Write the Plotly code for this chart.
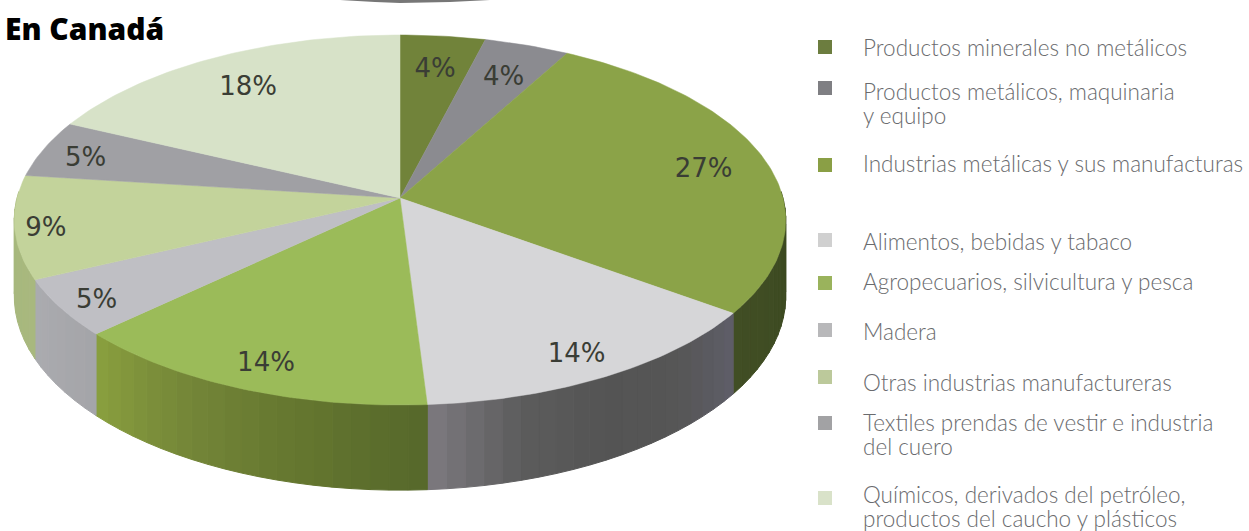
import math
import plotly.graph_objects as go

# ---- data ----
categories = [
    "Productos minerales no metálicos",
    "Productos metálicos, maquinaria<br>y equipo",
    "Industrias metálicas y sus manufacturas",
    "Alimentos, bebidas y tabaco",
    "Agropecuarios, silvicultura y pesca",
    "Madera",
    "Otras industrias manufactureras",
    "Textiles prendas de vestir e industria<br>del cuero",
    "Químicos, derivados del petróleo,<br>productos del caucho y plásticos",
]
values = [4, 4, 27, 14, 14, 5, 9, 5, 18]
title_text = "En Canadá"

# ---- styles ----
top_colors = ["#71833a", "#8b8b90", "#8ba348", "#d6d6d8", "#9bbb59", "#bfbfc4", "#c3d39b", "#a0a0a4", "#d7e2c8"]
swatch_colors = ["#6c7d3f", "#7f7f83", "#8a9f45", "#d0d0d0", "#9ab35c", "#b8b8ba", "#bcc99b", "#a2a2a4", "#d9e2c9"]
wall_stops = {
    2: ["#37441e", "#3e4b22", "#414e24"],
    3: ["#5f5e69", "#565656", "#545454", "#5c5c5c", "#7d7a80"],
    4: ["#56682b", "#64762f", "#748638", "#8aa03e"],
    5: ["#a4a4a8", "#abacb0"],
    6: ["#a8b87e", "#a8b87e"],
}
label_radius = [0.8, 0.8, 0.83, 0.87, 0.86, 0.9, 0.92, 0.88, 0.8]
LABEL_DROP = 5
swatch_y = [47, 88, 165, 240, 283, 330, 377, 423, 498]
text_y = [47, 91, 163, 241, 281, 331, 382, 422, 494]
LINE_PITCH = 24.5

APEX_X, APEX_Y = 400, 198
RX, RY, PERSP, DEPTH = 383, 182.4, 0.119, 75


def project(deg, r=1.0, drop=0.0):
    t = math.radians(deg)
    s = 1 / (1 + PERSP * r * math.cos(t))
    return (APEX_X + RX * r * math.sin(t) * s,
            APEX_Y - RY * r * math.cos(t) * s + drop * s)


def mix(stops, f):
    p = min(max(f, 0), 0.9999) * (len(stops) - 1)
    i = int(p)
    a, b = stops[i], stops[i + 1]
    ca = [int(a[k:k + 2], 16) for k in (1, 3, 5)]
    cb = [int(b[k:k + 2], 16) for k in (1, 3, 5)]
    m = [round(u + (v - u) * (p - i)) for u, v in zip(ca, cb)]
    return "#%02x%02x%02x" % tuple(m)


fig = go.Figure()
total = sum(values)
edges = [0]
for v in values:
    edges.append(edges[-1] + v / total * 360)


def poly(xy, color, line=0.8):
    fig.add_trace(go.Scatter(
        x=[p[0] for p in xy] + [xy[0][0]], y=[p[1] for p in xy] + [xy[0][1]],
        mode="lines", fill="toself", fillcolor=color,
        line=dict(color=color, width=line), hoverinfo="skip", showlegend=False))


# side walls (front half only), cut into thin shaded strips
for i, stops in wall_stops.items():
    a0, a1 = max(edges[i], 88), min(edges[i + 1], 272)
    n = max(1, int((a1 - a0) / 2.5))
    for k in range(n):
        u0 = a0 + (a1 - a0) * k / n
        u1 = a0 + (a1 - a0) * (k + 1) / n
        arc = [u0 + (u1 - u0) * j / 3 for j in range(4)]
        pts = [project(u) for u in arc] + [project(u, drop=DEPTH) for u in reversed(arc)]
        poly(pts, mix(stops, (k + 0.5) / n), 1)

# top face
for i, color in enumerate(top_colors):
    n = max(4, int(edges[i + 1] - edges[i]))
    arc = [edges[i] + (edges[i + 1] - edges[i]) * j / n for j in range(n + 1)]
    poly([project(0, 0)] + [project(u) for u in arc], color, 0.5)

# percentage labels
mids = [(edges[i] + edges[i + 1]) / 2 for i in range(len(values))]
lab = [project(m, r) for m, r in zip(mids, label_radius)]
fig.add_trace(go.Scatter(
    x=[p[0] for p in lab], y=[p[1] + LABEL_DROP for p in lab], mode="text",
    text=[f"{v}%" for v in values], textposition="middle center",
    textfont=dict(family="DejaVu Sans", size=26, color="#3a3d35"),
    hoverinfo="skip", showlegend=False))

# legend swatches
fig.add_trace(go.Scatter(
    x=[825] * len(categories), y=swatch_y, mode="markers",
    marker=dict(symbol="square", size=14, color=swatch_colors, line=dict(width=0)),
    hoverinfo="skip", showlegend=False))

annotations = []
for c, y in zip(categories, text_y):
    for j, part in enumerate(c.split("<br>")):
        annotations.append(dict(
            x=863, y=y + j * LINE_PITCH, text=part, xref="x", yref="y",
            xanchor="left", yanchor="middle", xshift=-2, showarrow=False,
            font=dict(family="Lato", size=22.5, color="#6a6b6e", weight=300)))
annotations.append(dict(
    x=5, y=28, text=title_text, xref="x", yref="y", xanchor="left", yanchor="middle",
    xshift=-2, showarrow=False,
    font=dict(family="Open Sans", size=30, color="#000000", weight=800)))

# sliver of the neighbouring figure cropped by the top edge
shapes = [dict(type="path", xref="x", yref="y",
               path="M 340 0 L 490 0 L 450 2 L 400 3 L 375 2 Z",
               fillcolor="#777777", line=dict(width=0))]

fig.update_layout(
    width=1249, height=531, autosize=False,
    margin=dict(l=0, r=0, t=0, b=0),
    paper_bgcolor="#ffffff", plot_bgcolor="#ffffff",
    xaxis=dict(range=[0, 1249], visible=False, fixedrange=True),
    yaxis=dict(range=[531, 0], visible=False, fixedrange=True),
    annotations=annotations, shapes=shapes, showlegend=False,
)
fig.write_html("out.html", config={"displayModeBar": False},
               post_script="document.body.style.margin='0';document.documentElement.style.overflow='hidden';")
